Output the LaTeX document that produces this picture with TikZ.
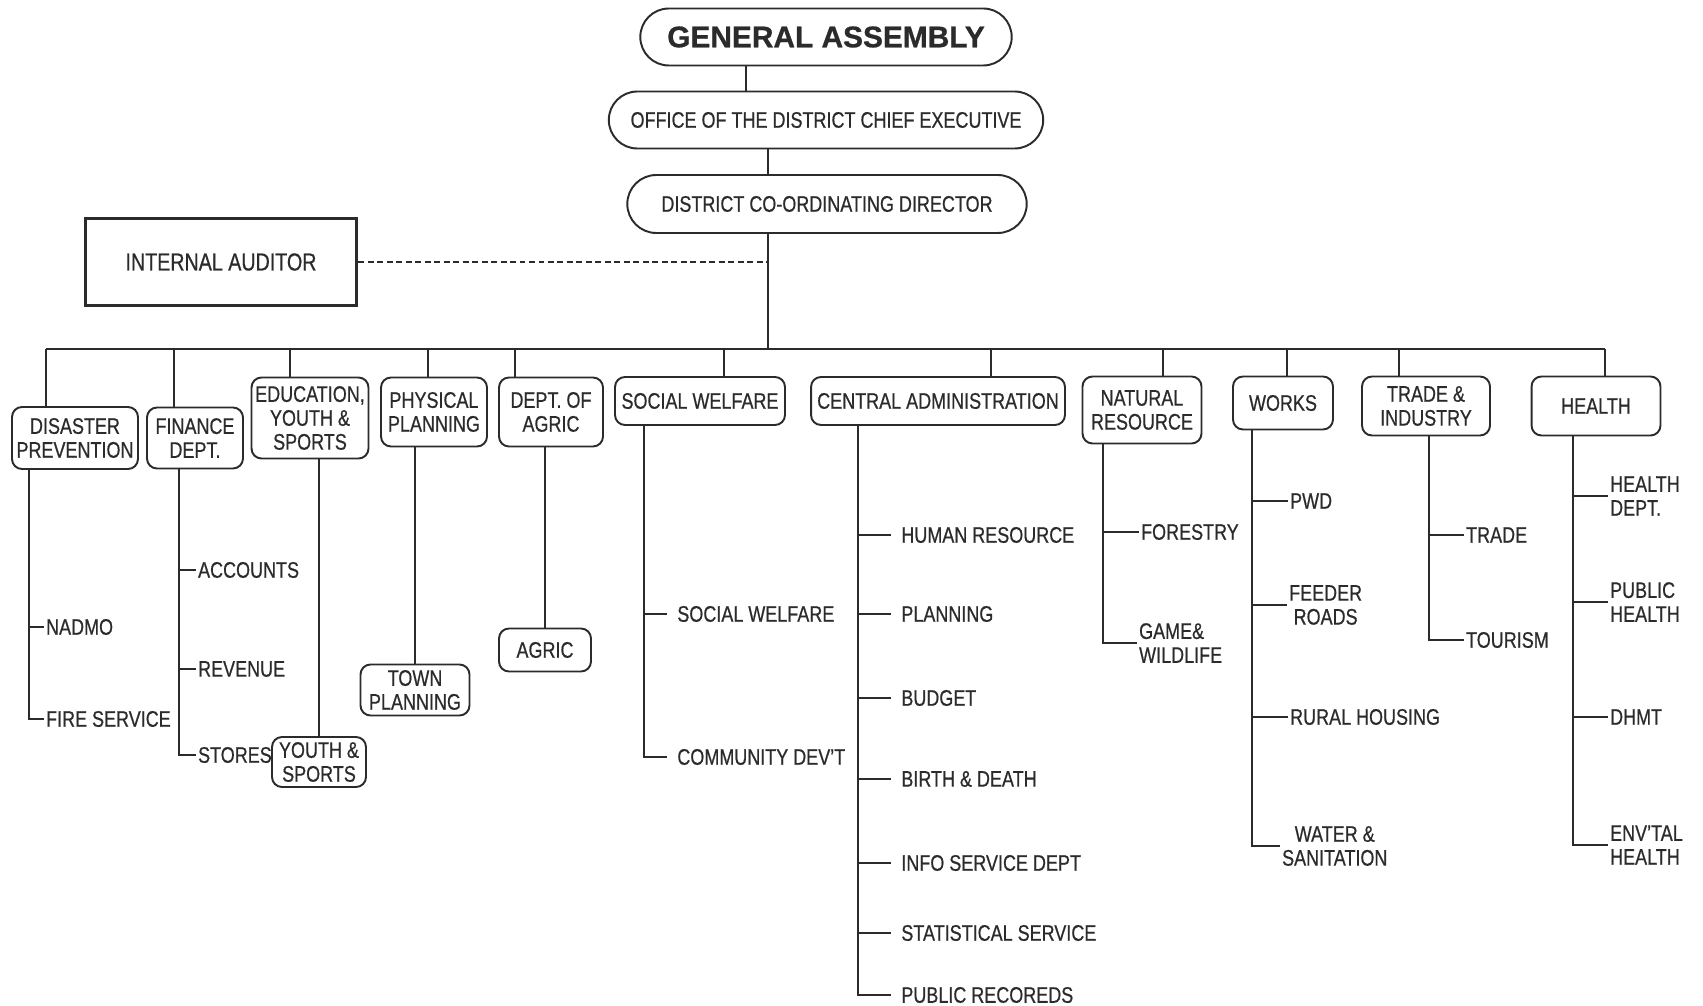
\documentclass[tikz,border=0pt]{standalone}
\usepackage{fontspec}
\setmainfont{Liberation Sans}[FakeStretch=0.80, FakeBold=0.6]
\newfontfamily\widefont{Liberation Sans}[FakeBold=0.8]
\usetikzlibrary{shapes.misc}
\definecolor{ink}{gray}{0.17}
\newcommand{\chartfont}{\fontsize{12.8}{13.6}\selectfont}
\tikzset{%
  % Specifications for style of nodes:
            base/.style = {rectangle, rounded corners=0.2cm, draw=ink,
                           line width=1.1pt, text=ink, align=center,
                           inner sep=1pt, font=\chartfont},
        topstyle/.style = {rounded rectangle, draw=ink, line width=1.1pt,
                           text=ink, inner sep=1pt, font=\chartfont},
         gastyle/.style = {topstyle, font=\widefont\fontsize{17}{20}\selectfont\bfseries},
        audstyle/.style = {rectangle, draw=ink, line width=2pt, text=ink,
                           minimum width=5.42cm, minimum height=1.74cm,
                           font=\fontsize{14}{16}\selectfont},
       deptstyle/.style = {base},
            item/.style = {anchor=west, inner xsep=1pt, inner ysep=0pt,
                           text=ink, align=left, font=\chartfont},
         itemgap/.style = {item, inner xsep=0.2cm},
            link/.style = {draw=ink, line width=1.1pt},
}
\begin{document}
\begin{tikzpicture}[x=0.02cm, y=-0.02cm]
  \useasboundingbox (0,0) rectangle (1703,1006);
  % Specification of nodes (position, etc.)
  \node (ga)   [gastyle, minimum width=7.5cm, minimum height=1.14cm]   at (826,37)  {GENERAL ASSEMBLY};
  \node (off)  [topstyle, minimum width=8.76cm, minimum height=1.14cm] at (826,120) {OFFICE OF THE DISTRICT CHIEF EXECUTIVE};
  \node (dcd)  [topstyle, minimum width=8.06cm, minimum height=1.16cm] at (827,204) {DISTRICT CO-ORDINATING DIRECTOR};
  \node (aud)  [audstyle] at (221,262) {INTERNAL AUDITOR};

  \node (dis)  [deptstyle, minimum width=2.52cm, minimum height=1.24cm] at (75,438)   {DISASTER\\PREVENTION};
  \node (fin)  [deptstyle, minimum width=1.92cm, minimum height=1.22cm] at (195,438)  {FINANCE\\DEPT.};
  \node (edu)  [deptstyle, minimum width=2.34cm, minimum height=1.62cm] at (310,418)  {EDUCATION,\\YOUTH \&\\SPORTS};
  \node (phy)  [deptstyle, minimum width=2.12cm, minimum height=1.38cm] at (434,412)  {PHYSICAL\\PLANNING};
  \node (agr)  [deptstyle, minimum width=2.08cm, minimum height=1.38cm] at (551,412)  {DEPT. OF\\AGRIC};
  \node (soc)  [deptstyle, minimum width=3.40cm, minimum height=0.96cm] at (700,401)  {SOCIAL WELFARE};
  \node (cen)  [deptstyle, minimum width=5.08cm, minimum height=0.96cm] at (938,401)  {CENTRAL ADMINISTRATION};
  \node (nat)  [deptstyle, minimum width=2.38cm, minimum height=1.34cm] at (1142,410) {NATURAL\\RESOURCE};
  \node (wor)  [deptstyle, minimum width=2.00cm, minimum height=1.06cm] at (1283,403) {WORKS};
  \node (tra)  [deptstyle, minimum width=2.56cm, minimum height=1.18cm] at (1426,406) {TRADE \&\\INDUSTRY};
  \node (hea)  [deptstyle, minimum width=2.58cm, minimum height=1.18cm] at (1596,406) {HEALTH};

  \node (yth)   [deptstyle, minimum width=1.88cm, minimum height=1.00cm] at (319,762) {YOUTH \&\\SPORTS};
  \node (town)  [deptstyle, minimum width=2.18cm, minimum height=1.02cm] at (415,690) {TOWN\\PLANNING};
  \node (agric) [deptstyle, minimum width=1.84cm, minimum height=0.86cm] at (545,650) {AGRIC};

  % sub units
  \node (nadmo)  [item] at (44,627)    {NADMO};
  \node (fire)   [item] at (44,719)    {FIRE SERVICE};
  \node (acc)    [item] at (196,570)   {ACCOUNTS};
  \node (rev)    [item] at (196,669)   {REVENUE};
  \node (sto)    [item] at (196,755)   {STORES};
  \node (socw)   [itemgap] at (667,614) {SOCIAL WELFARE};
  \node (comm)   [itemgap] at (667,757) {COMMUNITY DEV'T};
  \node (hr)     [itemgap] at (891,535) {HUMAN RESOURCE};
  \node (plan)   [itemgap] at (891,614) {PLANNING};
  \node (bud)    [itemgap] at (891,698) {BUDGET};
  \node (birth)  [itemgap] at (891,779) {BIRTH \& DEATH};
  \node (info)   [itemgap] at (891,863) {INFO SERVICE DEPT};
  \node (stat)   [itemgap] at (891,933) {STATISTICAL SERVICE};
  \node (pubrec) [itemgap] at (891,995) {PUBLIC RECOREDS};
  \node (fore)   [item] at (1139,532)  {FORESTRY};
  \node (game)   [item] at (1137,643)  {GAME\&\\WILDLIFE};
  \node (pwd)    [item] at (1288,501)  {PWD};
  \node (feed)   [item, align=center] at (1287,605) {FEEDER\\ROADS};
  \node (rural)  [item] at (1288,717)  {RURAL HOUSING};
  \node (water)  [item, align=center] at (1280,846) {WATER \&\\SANITATION};
  \node (trade)  [item] at (1464,535)  {TRADE};
  \node (tour)   [item] at (1464,640)  {TOURISM};
  \node (hdept)  [item] at (1608,496)  {HEALTH\\DEPT.};
  \node (phlth)  [item] at (1608,602)  {PUBLIC\\HEALTH};
  \node (dhmt)   [item] at (1608,717)  {DHMT};
  \node (env)    [item] at (1608,845)  {ENV'TAL\\HEALTH};

  % Specification of lines between nodes specified above
  \coordinate (gaoff) at (746,0);
  \coordinate (spine) at (768,349);
  \draw[link] (gaoff |- ga.south) -- (gaoff |- off.north);
  \draw[link] (spine |- off.south) -- (spine |- dcd.north);
  \draw[link] (spine |- dcd.south) -- (spine);
  \draw[link, dash pattern=on 3.4pt off 2pt] (aud.east) -- (aud.east -| spine);

  \foreach \n/\x in {dis/46, fin/174, edu/290, phy/428, agr/515, soc/724,
                     cen/991, nat/1163, wor/1287, tra/1399, hea/1605} {
    \coordinate (b-\n) at (\x,349);
    \draw[link] (b-\n) -- (b-\n |- \n.north);
  }
  \draw[link] (b-dis) -- (b-hea);

  \draw[link] (yth.north |- edu.south)   -- (yth.north);
  \draw[link] (town.north |- phy.south)  -- (town.north);
  \draw[link] (agric.north |- agr.south) -- (agric.north);

  % stems with their ticks
  \foreach \n/\x in {dis/29, fin/179, soc/644, cen/858, nat/1103, wor/1252, tra/1429, hea/1573}
    \coordinate (s-\n) at (\x,0);
  \foreach \s/\n in {dis/fire, fin/sto, soc/comm, cen/pubrec, nat/game, wor/water, tra/tour, hea/env}
    \draw[link] (\s.south -| s-\s) |- (\n.west);
  \foreach \s/\n in {dis/nadmo, fin/acc, fin/rev, soc/socw, cen/hr, cen/plan, cen/bud, cen/birth,
                     cen/info, cen/stat, nat/fore, wor/pwd, wor/feed, wor/rural, tra/trade,
                     hea/hdept, hea/phlth, hea/dhmt}
    \draw[link] (\n.west -| s-\s) -- (\n.west);
\end{tikzpicture}
\end{document}
